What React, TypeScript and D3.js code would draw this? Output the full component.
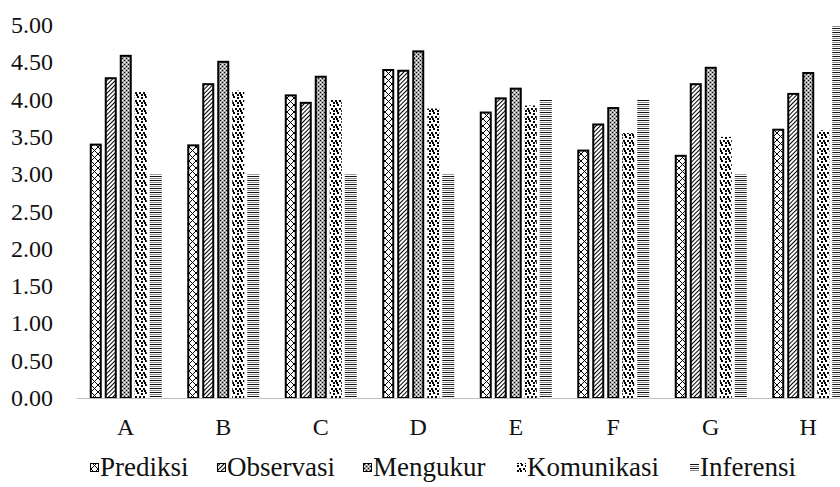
import React from "react";
import * as d3 from "d3";

const categories = ["A", "B", "C", "D", "E", "F", "G", "H"];
const seriesNames = ["Prediksi", "Observasi", "Mengukur", "Komunikasi", "Inferensi"];
const prediksi = [3.41, 3.40, 4.07, 4.41, 3.84, 3.33, 3.26, 3.61];
const observasi = [4.30, 4.22, 3.97, 4.40, 4.03, 3.68, 4.22, 4.09];
const mengukur = [4.60, 4.52, 4.32, 4.66, 4.16, 3.90, 4.44, 4.37];
const komunikasi = [4.10, 4.12, 4.00, 3.88, 3.92, 3.55, 3.50, 3.59];
const inferensi = [3.00, 3.00, 3.00, 3.00, 4.00, 4.00, 3.00, 5.00];
const yTicks = [0, 0.5, 1, 1.5, 2, 2.5, 3, 3.5, 4, 4.5, 5];

const seriesValues = [prediksi, observasi, mengukur, komunikasi, inferensi];
const bordered = [true, true, true, false, false];
const patternIds = ["pPred", "pObs", "pMeng", "pKom", "pInf"];

const W = 840;
const H = 487;
const FONT = "Liberation Serif, DejaVu Serif, serif";
const textStyle = { fontFamily: FONT };

export default function App() {
  const x = d3.scaleBand<string>().domain(categories).range([77, 857]).padding(0);
  const y = d3.scaleLinear().domain([0, 5]).range([398, 25]);
  const barStep = 15;
  const barW = 12;

  const legendX = [90, 217, 363, 517, 690];

  return (
    <svg
      width={W}
      height={H}
      style={{ position: "absolute", left: 0, top: 0, background: "#fff" }}
    >
      <defs>
        <pattern id="pPred" width="7" height="7" patternUnits="userSpaceOnUse">
          <rect width="7" height="7" fill="#fff" />
          <path d="M0,0 L7,7 M7,0 L0,7" stroke="#000" strokeWidth="1" />
        </pattern>
        <pattern id="pObs" width="3" height="3" patternUnits="userSpaceOnUse" patternTransform="rotate(45)">
          <rect width="3" height="3" fill="#fff" />
          <line x1="0.5" y1="0" x2="0.5" y2="3" stroke="#000" strokeWidth="1" />
        </pattern>
        <pattern id="pMeng" width="4" height="4" patternUnits="userSpaceOnUse">
          <rect width="4" height="4" fill="#a8a8a8" />
          <rect x="0" y="0" width="1" height="1" fill="#000" />
          <rect x="2" y="2" width="1" height="1" fill="#000" />
          <rect x="2" y="0" width="1" height="1" fill="#fff" />
          <rect x="0" y="2" width="1" height="1" fill="#fff" />
        </pattern>
        <pattern id="pKom" width="8" height="8" patternUnits="userSpaceOnUse">
          <rect width="8" height="8" fill="#fff" />
          <rect x="1" y="0" width="2" height="2" fill="#000" />
          <rect x="5" y="1" width="2" height="2" fill="#000" />
          <rect x="3" y="4" width="2" height="2" fill="#000" />
          <rect x="7" y="4" width="1" height="2" fill="#000" />
          <rect x="0" y="4" width="1" height="2" fill="#000" />
          <rect x="0" y="6" width="2" height="2" fill="#000" />
          <rect x="5" y="6" width="2" height="2" fill="#000" />
        </pattern>
        <pattern id="pInf" width="4" height="4" patternUnits="userSpaceOnUse">
          <rect width="4" height="4" fill="#fff" />
          <rect x="0" y="0" width="4" height="1" fill="#111" />
          <rect x="0" y="2" width="4" height="1" fill="#888" />
        </pattern>
      </defs>

      {yTicks.map((t) => (
        <text
          key={t}
          x={53}
          y={y(t)}
          textAnchor="end"
          dominantBaseline="central"
          fontSize={24}
          fill="#111"
          style={textStyle}
        >
          {t.toFixed(2)}
        </text>
      ))}

      {categories.map((c, ci) => {
        const center = (x(c) as number) + x.bandwidth() / 2;
        return (
          <g key={c}>
            {seriesValues.map((vals, si) => {
              const left = center + (si - 2) * barStep - barW / 2;
              const top = y(vals[ci]);
              const h = y(0) - top;
              if (bordered[si]) {
                return (
                  <rect
                    key={si}
                    x={left + 1}
                    y={top + 1}
                    width={barW - 2}
                    height={h - 1}
                    fill={`url(#${patternIds[si]})`}
                    stroke="#000"
                    strokeWidth={2}
                  />
                );
              }
              return (
                <rect
                  key={si}
                  x={left}
                  y={top}
                  width={barW}
                  height={h}
                  fill={`url(#${patternIds[si]})`}
                />
              );
            })}
            <text x={center} y={427} textAnchor="middle" dominantBaseline="central" fontSize={24} fill="#111" style={textStyle}>
              {c}
            </text>
          </g>
        );
      })}

      <line x1={77} x2={W} y1={398.5} y2={398.5} stroke="#bfbfbf" strokeWidth={1} />

      {seriesNames.map((name, si) => (
        <g key={name}>
          <rect
            x={legendX[si] + (bordered[si] ? 0.5 : 0)}
            y={463 + (bordered[si] ? 0.5 : 0)}
            width={bordered[si] ? 8 : 9}
            height={bordered[si] ? 8 : 9}
            fill={`url(#${patternIds[si]})`}
            stroke={bordered[si] ? "#000" : "none"}
            strokeWidth={1}
          />
          <text x={legendX[si] + 10} y={467} dominantBaseline="central" fontSize={27} fill="#111" style={textStyle}>
            {name}
          </text>
        </g>
      ))}
    </svg>
  );
}
